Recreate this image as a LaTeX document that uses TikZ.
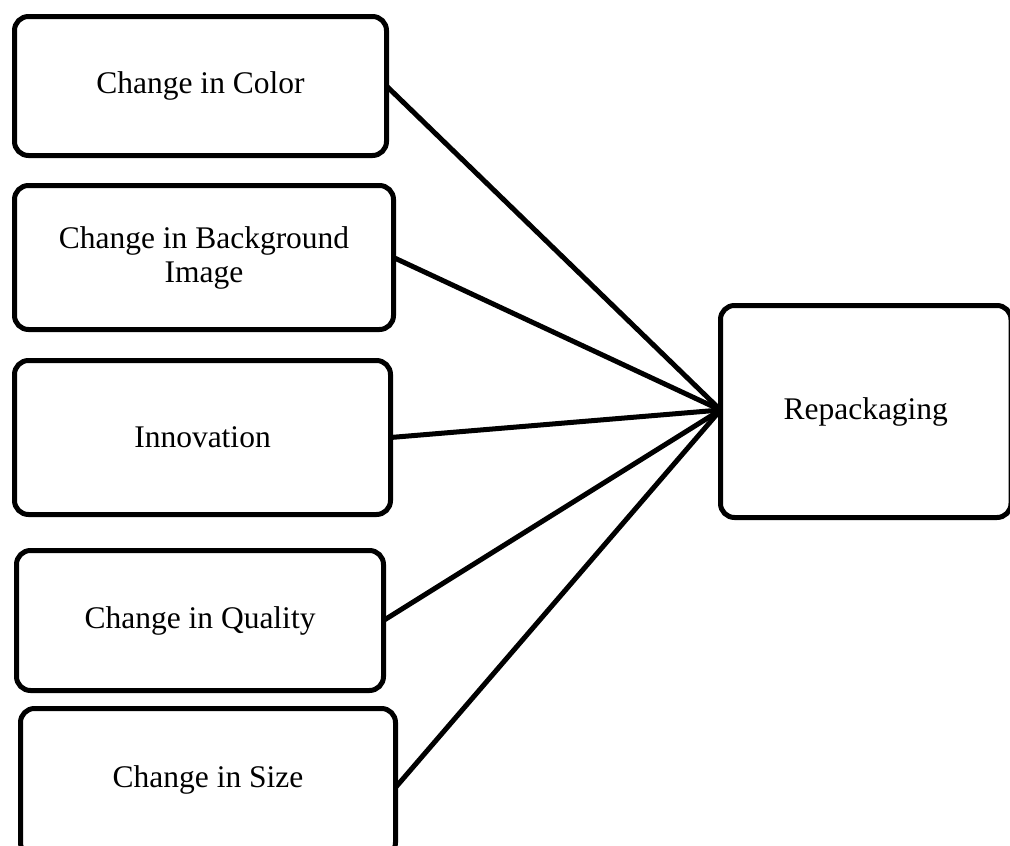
\documentclass[tikz,border=0pt]{standalone}
\usepackage{fontspec}
\setmainfont{Liberation Serif}
\begin{document}
\begin{tikzpicture}[x=1pt,y=-1pt,
  box/.style={draw=black,line width=5pt,rounded corners=14pt,fill=white,
    align=center,inner sep=0pt,outer sep=0pt,
    font=\fontsize{31.5}{34}\selectfont},
  link/.style={draw=black,line width=5pt}]
\useasboundingbox (0,0) rectangle (1010,846);
\clip (0,0) rectangle (1010,846);
\node[box,minimum width=372pt,minimum height=139pt] (color) at (200.5,86) {Change in Color};
\node[box,minimum width=379pt,minimum height=144pt] (bg) at (204,257.5) {Change in Background\\Image};
\node[box,minimum width=376pt,minimum height=154pt] (innov) at (202.5,437.5) {Innovation};
\node[box,minimum width=367pt,minimum height=140pt] (quality) at (200,620.5) {Change in Quality};
\node[box,minimum width=375pt,minimum height=148pt] (size) at (208,782.5) {\raisebox{11pt}{Change in Size}};
\node[box,minimum width=290.5pt,minimum height=212pt] (rep) at (865.75,411.5) {Repackaging};
\coordinate (hub) at ([yshift=1.5pt]rep.west);
\draw[link] (color.east) -- (hub);
\draw[link] (bg.east) -- (hub);
\draw[link] (innov.east) -- (hub);
\draw[link] (quality.east) -- (hub);
\draw[link] ([yshift=-5pt]size.east) -- (hub);
\end{tikzpicture}
\end{document}
